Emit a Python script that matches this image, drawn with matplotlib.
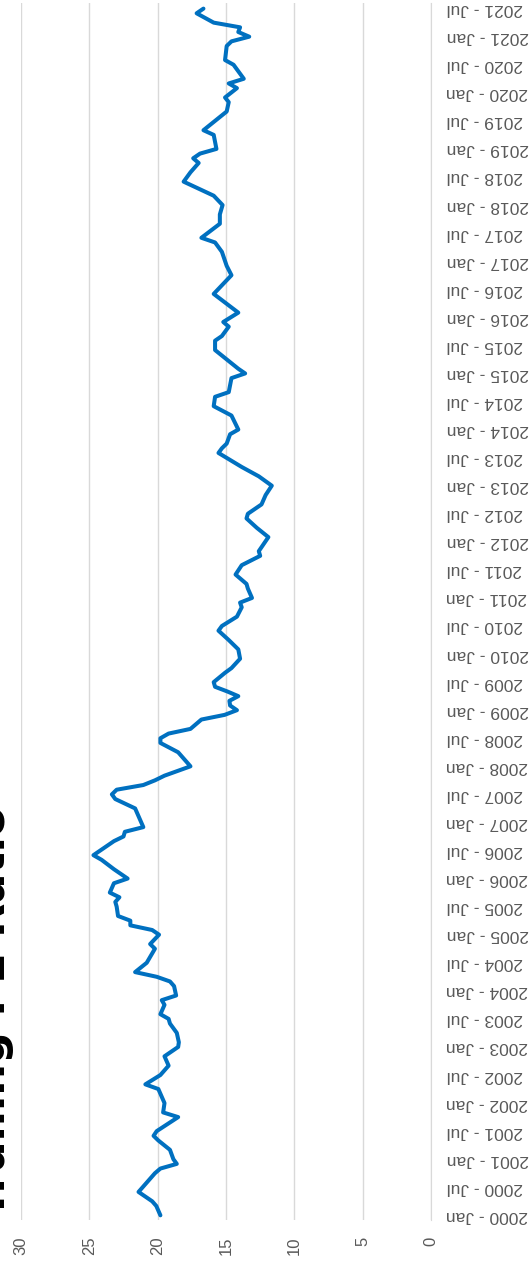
import matplotlib.pyplot as plt

# monthly P/E readings (month, value)
dates = ["2000-01", "2000-03", "2000-04", "2000-06", "2000-08", "2000-10", "2000-11", "2000-12",
         "2001-01", "2001-03", "2001-05", "2001-06", "2001-07", "2001-10", "2001-11",
         "2002-01", "2002-04", "2002-05", "2002-07", "2002-09", "2002-11",
         "2003-01", "2003-02", "2003-04", "2003-06", "2003-07", "2003-08", "2003-10", "2003-11", "2003-12",
         "2004-02", "2004-03", "2004-04", "2004-05", "2004-07", "2004-10", "2004-11",
         "2005-01", "2005-02", "2005-03", "2005-04", "2005-05", "2005-07", "2005-08", "2005-09", "2005-10", "2005-12",
         "2006-01", "2006-03", "2006-05", "2006-06", "2006-09", "2006-10", "2006-11", "2006-12",
         "2007-04", "2007-06", "2007-07", "2007-08", "2007-09", "2007-10", "2007-11",
         "2008-01", "2008-03", "2008-04", "2008-06", "2008-07", "2008-08", "2008-09", "2008-11", "2008-12",
         "2009-01", "2009-02", "2009-03", "2009-04", "2009-05", "2009-06", "2009-07", "2009-09", "2009-10", "2009-12",
         "2010-02", "2010-04", "2010-06", "2010-07", "2010-09", "2010-11", "2010-12",
         "2011-01", "2011-03", "2011-04", "2011-06", "2011-08", "2011-10", "2011-11",
         "2012-02", "2012-04", "2012-06", "2012-07", "2012-09", "2012-11",
         "2013-01", "2013-03", "2013-05", "2013-08", "2013-09", "2013-10", "2013-12",
         "2014-01", "2014-04", "2014-06", "2014-08", "2014-09", "2014-12",
         "2015-01", "2015-02", "2015-06", "2015-08", "2015-09", "2015-11", "2015-12",
         "2016-02", "2016-06", "2016-10", "2016-12",
         "2017-03", "2017-05", "2017-06", "2017-09", "2017-11",
         "2018-01", "2018-03", "2018-06", "2018-08", "2018-10", "2018-11", "2018-12",
         "2019-01", "2019-04", "2019-05", "2019-09", "2019-11", "2019-12",
         "2020-02", "2020-03", "2020-04", "2020-07", "2020-08", "2020-11", "2020-12",
         "2021-01", "2021-02", "2021-03", "2021-04", "2021-06", "2021-07"]
pe = [19.8, 20.1, 20.4, 21.4, 20.8, 20.2, 19.8, 18.6,
      18.85, 19.1, 19.95, 20.3, 20.07, 18.5, 19.6,
      19.5, 19.95, 20.9, 19.8, 19.2, 19.5,
      18.5, 18.45, 18.6, 19.1, 19.2, 19.8, 19.5, 19.7, 18.65,
      18.8, 19.1, 20.07, 21.65, 20.8, 20.2, 20.55,
      19.9, 20.4, 22.0, 22.0, 22.9, 23.0, 23.1, 22.8, 23.5, 23.2,
      22.2, 23.2, 24.1, 24.7, 23.2, 22.5, 22.4, 21.05,
      21.65, 23.1, 23.35, 23.0, 21.05, 20.2, 19.5,
      17.6, 18.2, 18.5, 19.8, 19.8, 19.2, 17.6, 16.8, 15.1,
      14.2, 14.7, 14.75, 14.1, 14.9, 15.8, 15.9, 15.07, 14.6, 13.97,
      14.1, 14.8, 15.55, 15.3, 14.2, 13.85, 13.97,
      13.1, 13.4, 13.5, 14.3, 13.85, 12.5, 12.6,
      11.9, 12.75, 13.5, 13.4, 12.4, 12.1,
      11.65, 12.6, 13.85, 15.55, 15.3, 14.95, 14.7,
      14.1, 14.6, 15.9, 15.8, 14.8, 14.6,
      13.6, 14.1, 15.8, 15.8, 15.3, 14.8, 15.2,
      14.1, 15.9, 14.6, 14.95,
      15.3, 15.8, 16.8, 15.45, 15.45,
      15.25, 15.9, 18.1, 17.6, 17.0, 17.4, 16.9,
      15.7, 15.9, 16.65, 14.95, 14.8, 15.07,
      14.2, 14.8, 13.7, 14.45, 15.07, 14.95, 14.6,
      13.3, 14.1, 13.97, 15.9, 17.15, 16.65]

month_names = ["Jan", "Feb", "Mar", "Apr", "May", "Jun", "Jul", "Aug", "Sep", "Oct", "Nov", "Dec"]
first_year = 2000
last_month = 258  # 2021-07
title = "Trailing PE Ratio"

grey = "#595959"
grid_c = "#D9D9D9"
blue = "#0070C0"


def month_index(s):
    y, m = s.split("-")
    return (int(y) - first_year) * 12 + int(m) - 1


idx = [month_index(d) for d in dates]

plt.rcParams['font.family'] = ['Liberation Sans', 'DejaVu Sans']

fig = plt.figure(figsize=(5.32, 12.77), dpi=100)
W, H = 532, 1277
ax = fig.add_axes([21 / W, 57 / H, 410 / W, 1217 / H])

ax.plot(pe, idx, color=blue, lw=2.9, solid_joinstyle='round', solid_capstyle='round')

ax.set_xlim(30, 0)
ax.set_ylim(-1, 259.2)

ax.set_xticks(range(0, 31, 5))
ax.set_xticklabels([str(v) for v in range(0, 31, 5)], rotation=90, color=grey, fontsize=12)
ax.tick_params(axis='x', length=0, pad=12)
ax.grid(axis='x', color=grid_c, lw=1)
ax.set_axisbelow(True)

ticks = list(range(0, last_month + 1, 6))
labels = [f"{first_year + t // 12} - {month_names[t % 12]}" for t in ticks]
ax.yaxis.tick_right()
ax.set_yticks(ticks)
ax.set_yticklabels(labels, rotation=180, color=grey, fontsize=12.5, va='center', ha='left')
ax.tick_params(axis='y', length=0, pad=11)

for side in ['top', 'left', 'bottom']:
    ax.spines[side].set_visible(False)
ax.spines['right'].set_color(grid_c)

# title sits mostly off the left edge, as in the source image
fig.text(5 / W, (H - 1218) / H, title, rotation=90, rotation_mode='anchor',
         ha='left', va='baseline', fontsize=32, fontweight='bold', family='DejaVu Sans')

fig.savefig("out.png", dpi=100)
